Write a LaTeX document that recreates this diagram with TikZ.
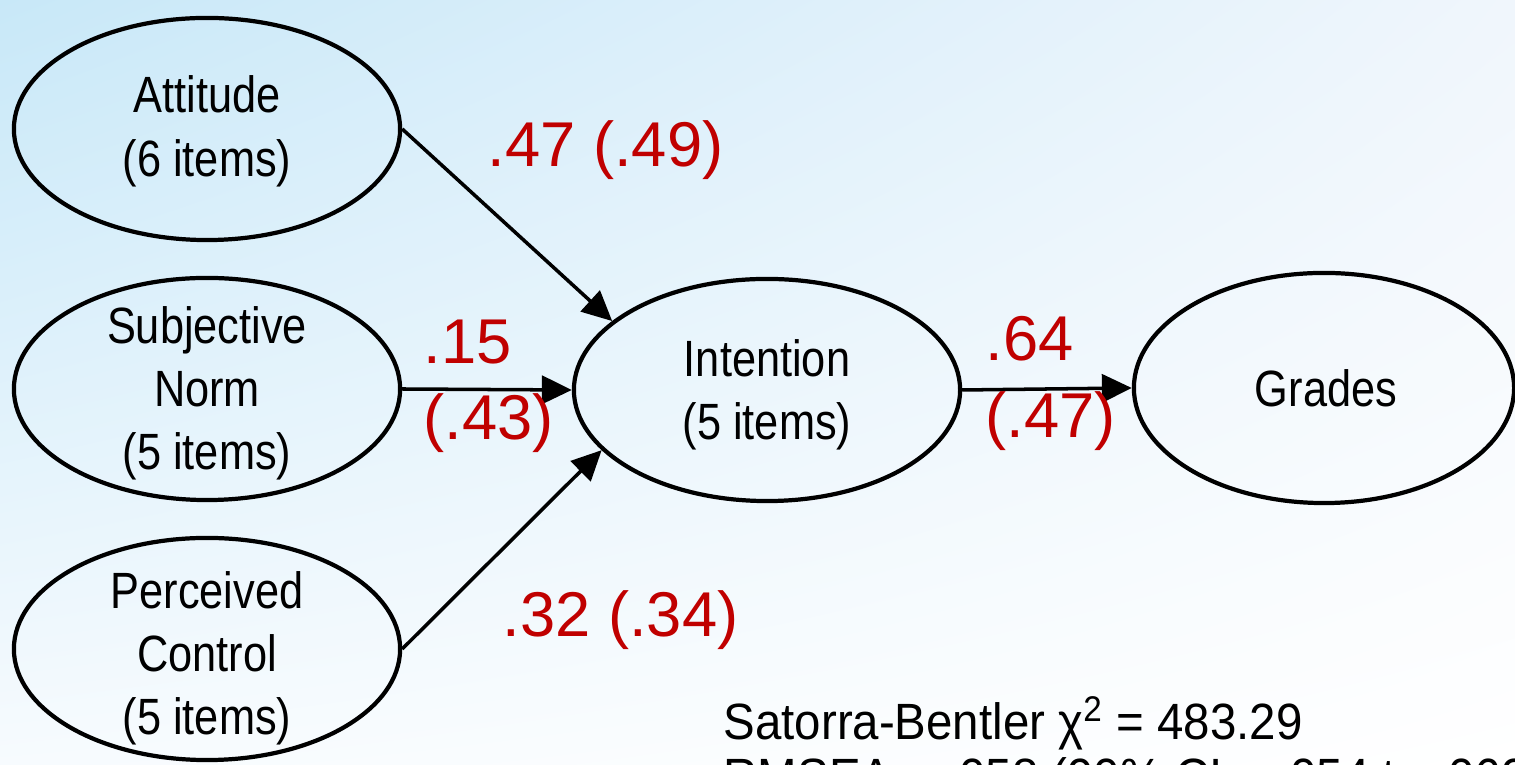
\documentclass[tikz,border=0pt]{standalone}
\usepackage{fontspec}
\setmainfont{Liberation Sans}
\usepackage{graphicx}
\usepackage{xcolor}
\usetikzlibrary{shapes.geometric, arrows.meta, positioning, shadings}
\definecolor{pathred}{RGB}{192,0,0}
\definecolor{skytop}{RGB}{200,232,248}
\definecolor{skyright}{RGB}{240,246,252}
\definecolor{skyleft}{RGB}{247,251,254}
\newcommand{\slimtext}[1]{\scalebox{0.85}[1]{\begin{tabular}{@{}c@{}}#1\end{tabular}}}
\tikzstyle{latent} = [ellipse, draw=black, line width=1.2pt, minimum width=3.86cm, minimum height=2.22cm, inner sep=0pt]
\tikzstyle{vartext} = [inner sep=0pt, font=\fontsize{14.5}{18}\selectfont]
\tikzstyle{coef} = [inner sep=0pt, anchor=base west, text=pathred, font=\fontsize{18}{21.6}\selectfont]
\tikzstyle{arrow} = [line width=1pt,-{Triangle[length=8.5pt,width=8pt]}]

\begin{document}
\begin{tikzpicture}[x=0.01cm, y=-0.01cm]
  \useasboundingbox (0,0) rectangle (1515,765);
  \clip (0,0) rectangle (1515,765);
  \shade[upper left=skytop, upper right=skyright, lower left=skyleft, lower right=white] (0,0) rectangle (1515,765);

  % latent variables
  \node (att) [latent] at (207,129) {};
  \node (sub) [latent] at (207,389) {};
  \node (pbc) [latent] at (207,649) {};
  \node (int) [latent] at (767,390) {};
  \node (grd) [latent, minimum width=3.8cm, minimum height=2.3cm] at (1324,388) {};

  \node (atttxt) [vartext] at (207,132) {\slimtext{Attitude\\(6 items)}};
  \node (subtxt) [vartext] at (207,394) {\slimtext{Subjective\\Norm\\(5 items)}};
  \node (pbctxt) [vartext] at (207,659) {\slimtext{Perceived\\Control\\(5 items)}};
  \node (inttxt) [vartext] at (767,395) {\slimtext{Intention\\(5 items)}};
  \node (grdtxt) [vartext] at (1326,394) {\slimtext{Grades}};

  % paths
  \draw[arrow] (att.east) -- (int.156);
  \draw[arrow] (sub.east) -- (int.west);
  \draw[arrow] (pbc.east) -- (int.200);
  \draw[arrow] (int.east) -- (grd.west);

  % coefficients
  \node (c47) [coef] at (487,167) {.47 (.49)};
  \node (c15) [coef] at (423,364) {.15};
  \node (c43) [coef] at (423,440) {(.43)};
  \node (c64) [coef] at (985,361) {.64};
  \node (c47b) [coef] at (985,438) {(.47)};
  \node (c32) [coef] at (502,637) {.32 (.34)};

  % fit
  \node (fitstats) [inner sep=0pt, anchor=base west, font=\fontsize{14.5}{15.6}\selectfont] at (723,740)
    {\scalebox{0.93}[1]{\begin{tabular}[t]{@{}l@{}}Satorra-Bentler χ\textsuperscript{2} = 483.29\\RMSEA = .058 (90\% CI = .054 to .062)\end{tabular}}};
\end{tikzpicture}
\end{document}
